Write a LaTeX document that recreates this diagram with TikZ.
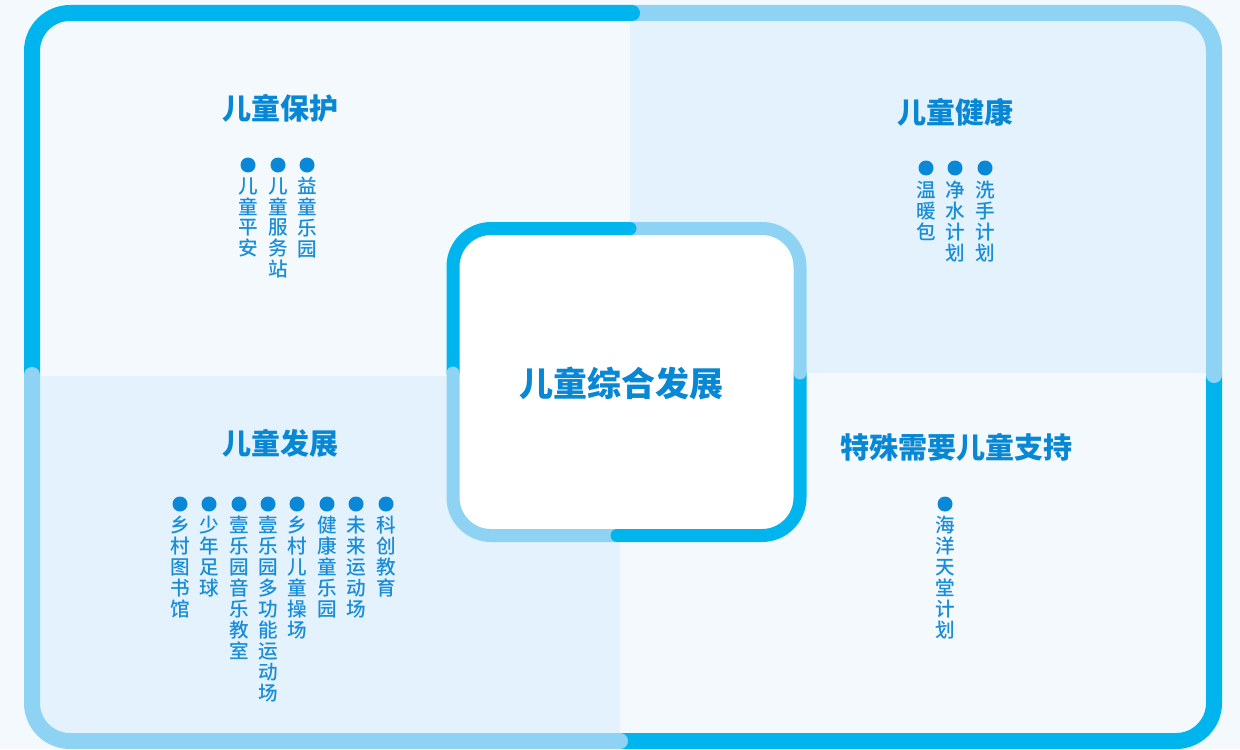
\documentclass[tikz,border=0pt]{standalone}
\usepackage{fontspec}
\setmainfont{Noto Sans CJK SC}[BoldFont={Noto Sans CJK SC Bold}]
\newfontfamily\heavyfont{Noto Sans CJK SC Black}
\newfontfamily\medfont{Noto Sans CJK SC Medium}
\definecolor{bgmain}{HTML}{F3F9FD}
\definecolor{bgquad}{HTML}{E3F2FC}
\definecolor{fdark}{HTML}{00B5EE}
\definecolor{flight}{HTML}{8FD3F4}
\definecolor{tblue}{HTML}{0887D5}
\definecolor{iblue}{HTML}{1A8DD8}
\definecolor{dblue}{HTML}{0A88D8}
\begin{document}
\begin{tikzpicture}[x=0.5pt,y=-0.5pt,
  title/.style={font=\heavyfont\fontsize{14.5}{17}\selectfont, text=tblue, inner sep=0},
  bigtitle/.style={font=\heavyfont\fontsize{17}{20}\selectfont, text=tblue, inner sep=0},
  item/.style={font=\medfont\fontsize{9.8}{10.45}\selectfont, text=iblue, align=center, inner sep=0, anchor=north},
  dot/.style={circle, fill=dblue, minimum size=7.5pt, inner sep=0},
  outerseg/.style={line width=8pt, rounded corners=19pt},
  innerseg/.style={line width=6.5pt, rounded corners=19pt}]
\useasboundingbox (0,0) rectangle (1240,749);
\fill[bgmain] (0,0) rectangle (1240,749);
% quadrant shading
\begin{scope}
  \clip[rounded corners=19pt] (32,13) rectangle (1214,741);
  \fill[bgquad] (630,0) rectangle (1240,373);
  \fill[bgquad] (0,376) rectangle (620,749);
\end{scope}
% outer frame
\draw[outerseg, draw=fdark] (1214,375) -- (1214,741) -- (620,741);
\draw[outerseg, draw=flight] (632,13) -- (1214,13) -- (1214,375);
\draw[outerseg, draw=fdark] (32,375) -- (32,13) -- (632,13);
\draw[outerseg, draw=flight] (620,741) -- (32,741) -- (32,375);
\fill[fdark] (632,13) circle[radius=4pt];
\fill[flight] (1214,375) circle[radius=4pt];
\fill[flight] (620,741) circle[radius=4pt];
\fill[flight] (32,375) circle[radius=4pt];
% inner box
\fill[white, rounded corners=19pt] (453,228.5) rectangle (800,535.5);
\draw[innerseg, draw=fdark] (453,373) -- (453,228.5) -- (630,228.5);
\draw[innerseg, draw=flight] (630,228.5) -- (800,228.5) -- (800,373);
\draw[innerseg, draw=fdark] (800,373) -- (800,535.5) -- (617,535.5);
\draw[innerseg, draw=flight] (617,535.5) -- (453,535.5) -- (453,373);
\fill[fdark] (630,228.5) circle[radius=3.25pt];
\fill[flight] (800,373) circle[radius=3.25pt];
\fill[fdark] (617,535.5) circle[radius=3.25pt];
\fill[flight] (453,373) circle[radius=3.25pt];
\node[bigtitle] (center) at (621,383) {儿童综合发展};
% titles
\node[title] (tprot) at (280,108) {儿童保护};
\node[title] (thealth) at (955,112) {儿童健康};
\node[title] (tdev) at (280,443) {儿童发展};
\node[title] (tspec) at (956,447) {特殊需要儿童支持};
% 儿童保护
\node[dot] (p1d) at (248,165) {};
\node[dot] (p2d) at (278,165) {};
\node[dot] (p3d) at (307,165) {};
\node[item] (p1) at (248,177) {儿\\童\\平\\安};
\node[item] (p2) at (278,177) {儿\\童\\服\\务\\站};
\node[item] (p3) at (307,177) {益\\童\\乐\\园};
% 儿童健康
\node[dot] (h1d) at (926,168) {};
\node[dot] (h2d) at (955,168) {};
\node[dot] (h3d) at (985,168) {};
\node[item] (h1) at (926,181) {温\\暖\\包};
\node[item] (h2) at (955,181) {净\\水\\计\\划};
\node[item] (h3) at (985,181) {洗\\手\\计\\划};
% 儿童发展
\node[dot] (d1d) at (180,504) {};
\node[dot] (d2d) at (209,504) {};
\node[dot] (d3d) at (239,504) {};
\node[dot] (d4d) at (268,504) {};
\node[dot] (d5d) at (297,504) {};
\node[dot] (d6d) at (327,504) {};
\node[dot] (d7d) at (356,504) {};
\node[dot] (d8d) at (386,504) {};
\node[item] (d1) at (180,516) {乡\\村\\图\\书\\馆};
\node[item] (d2) at (209,516) {少\\年\\足\\球};
\node[item] (d3) at (239,516) {壹\\乐\\园\\音\\乐\\教\\室};
\node[item] (d4) at (268,516) {壹\\乐\\园\\多\\功\\能\\运\\动\\场};
\node[item] (d5) at (297,516) {乡\\村\\儿\\童\\操\\场};
\node[item] (d6) at (327,516) {健\\康\\童\\乐\\园};
\node[item] (d7) at (356,516) {未\\来\\运\\动\\场};
\node[item] (d8) at (386,516) {科\\创\\教\\育};
% 特殊需要儿童支持
\node[dot] (s1d) at (945,504) {};
\node[item] (s1) at (945,516) {海\\洋\\天\\堂\\计\\划};
\end{tikzpicture}
\end{document}
